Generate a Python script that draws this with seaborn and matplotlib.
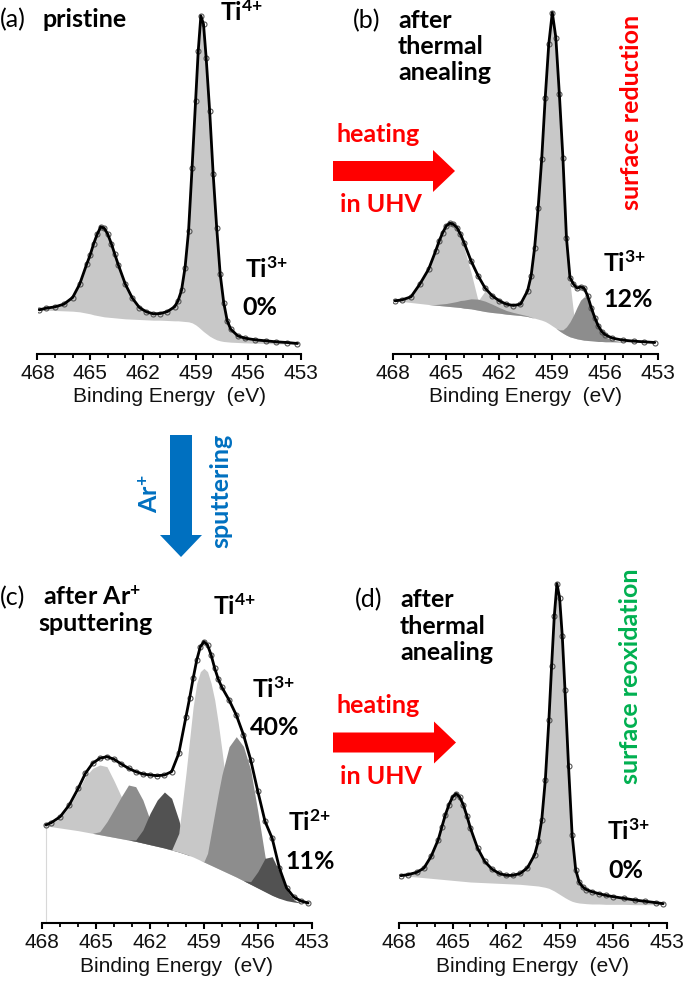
import numpy as np
import matplotlib
matplotlib.use("Agg")
import matplotlib.pyplot as plt
import seaborn as sns
from matplotlib.patches import FancyArrow

# ---------------- data (intensity in arbitrary units) ----------------
# panel (a) pristine
E_a = [467.9, 467.5, 467.0, 466.5, 466.0, 465.6, 465.2, 465.0,
       464.8, 464.6, 464.4, 464.2, 464.0, 463.8, 463.6, 463.4,
       463.0, 462.6, 462.2, 461.8, 461.4, 461.0, 460.6, 460.2,
       460.0, 459.8, 459.6, 459.4, 459.2, 459.0, 458.85,
       458.7, 458.55, 458.4, 458.2, 458.0, 457.8, 457.6, 457.4, 457.2, 457.0,
       456.6, 456.2, 455.6, 455.0, 454.4, 453.8, 453.2]
env_a = [131, 136, 140, 148, 168, 208, 268, 296,
         330, 358, 380, 376, 358, 330, 298, 266,
         208, 166, 138, 125, 119, 120, 126, 140,
         158, 190, 258, 368, 558, 758, 908,
         1013, 988, 888, 728, 538, 378, 238, 153, 98, 73,
         53, 46, 41, 38, 35, 33, 30]
bg_a = [131, 130, 129, 128, 127, 125, 121, 119,
        116, 114, 112, 110, 109, 108, 107, 106,
        104, 103, 102, 101, 100, 100, 99, 98,
        98, 97, 96, 95, 92, 86, 80,
        73, 66, 60, 52, 46, 41, 38, 36, 35, 34,
        33, 32, 31, 30, 29, 29, 28]

# panel (b) after thermal annealing
E_b = [467.9, 467.5, 467.0, 466.5, 466.0, 465.6, 465.4, 465.2, 465.0, 464.8,
       464.6, 464.4, 464.2, 464.0, 463.6, 463.2, 462.8, 462.4, 462.0, 461.6,
       461.2, 460.8, 460.4, 460.2, 460.0, 459.8, 459.6, 459.4, 459.2, 459.0,
       458.8, 458.6, 458.4, 458.2, 458.0, 457.8, 457.6, 457.4, 457.2, 457.0,
       456.8, 456.6, 456.4, 456.2, 456.0, 455.6, 455.0, 454.4, 453.8, 453.2]
env_b = [158, 161, 170, 208, 253, 308, 338, 363, 383, 391,
         388, 378, 358, 333, 278, 233, 196, 173, 158, 148,
         144, 148, 188, 233, 318, 438, 583, 768, 928, 1023,
         948, 778, 588, 348, 228, 208, 196, 200, 196, 173,
         138, 108, 83, 66, 56, 46, 40, 37, 35, 33]
bg_b = [158, 156, 153, 150, 147, 145, 144, 143, 142, 141,
        140, 139, 138, 136, 134, 130, 126, 123, 121, 118,
        116, 114, 111, 108, 106, 103, 100, 96, 90, 83,
        76, 68, 61, 55, 50, 47, 44, 42, 40, 39,
        38, 37, 36, 36, 35, 35, 34, 34, 33, 32]
ti4_b = [158, 161, 170, 208, 253, 308, 338, 363, 383, 391,
         388, 378, 358, 318, 243, 158, 188, 168, 155, 146,
         142, 146, 186, 231, 316, 436, 581, 766, 926, 1020,
         946, 776, 586, 346, 213, 123, 73, 50, 42, 39,
         38, 37, 36, 36, 35, 35, 34, 34, 33, 32]
ti3_b = [158, 156, 153, 150, 147, 147, 148, 149, 150, 152,
         154, 156, 159, 160, 164, 163, 157, 148, 138, 129,
         123, 118, 113, 109, 106, 103, 100, 96, 90, 83,
         76, 71, 71, 80, 95, 115, 139, 160, 170, 164,
         138, 107, 81, 63, 50, 40, 35, 34, 33, 32]

# panel (c) after Ar+ sputtering
E_c = [467.8, 467.5, 467.0, 466.5, 466.0, 465.6, 465.2, 464.8, 464.4, 464.0,
       463.6, 463.2, 462.8, 462.4, 462.0, 461.6, 461.2, 460.8, 460.4, 460.0,
       459.8, 459.6, 459.4, 459.2, 459.0, 458.8, 458.6, 458.4, 458.2, 458.0,
       457.6, 457.2, 456.8, 456.4, 456.0, 455.6, 455.2, 454.8, 454.4, 454.0,
       453.6, 453.2]
env_c = [294, 301, 319, 354, 404, 449, 479, 494, 499, 491,
         477, 464, 454, 447, 444, 442, 444, 454, 509, 619,
         674, 734, 789, 829, 844, 834, 804, 764, 731, 707,
         669, 624, 565, 490, 395, 305, 254, 165, 105, 78,
         66, 60]
bg_c = [291, 289, 285, 281, 277, 273, 269, 265, 261, 257,
        253, 249, 245, 240, 235, 230, 225, 219, 213, 206,
        202, 198, 193, 188, 183, 178, 173, 168, 163, 158,
        148, 138, 127, 116, 105, 94, 83, 74, 67, 63,
        60, 58]
ti4_c_p12 = [291, 298, 315, 349, 397, 439, 464, 474, 469, 426,
             379, 314, 269, 247, 237, 230, 225, 219, 213, 206,
             202, 198, 193, 188, 183, 178, 173, 168, 163, 158,
             148, 138, 127, 116, 105, 94, 83, 74, 67, 63,
             60, 58]
ti3_c_p12 = [291, 289, 285, 281, 277, 273, 269, 274, 304, 341,
             379, 414, 409, 369, 309, 257, 229, 219, 213, 206,
             202, 198, 193, 188, 183, 178, 173, 168, 163, 158,
             148, 138, 127, 116, 105, 94, 83, 74, 67, 63,
             60, 58]
ti2_c_p12 = [291, 289, 285, 281, 277, 273, 269, 265, 261, 257,
             253, 249, 249, 279, 329, 369, 393, 374, 309, 229,
             202, 198, 193, 188, 183, 178, 173, 168, 163, 158,
             148, 138, 127, 116, 105, 94, 83, 74, 67, 63,
             60, 58]
ti4_c_p32 = [291, 289, 285, 281, 277, 273, 269, 265, 261, 257,
             253, 249, 245, 240, 235, 230, 225, 219, 269, 449,
             549, 649, 719, 754, 764, 754, 719, 669, 599, 519,
             349, 209, 139, 116, 105, 94, 83, 74, 67, 63,
             60, 58]
ti3_c_p32 = [291, 289, 285, 281, 277, 273, 269, 265, 261, 257,
             253, 249, 245, 240, 235, 230, 225, 219, 213, 206,
             202, 198, 193, 188, 184, 209, 269, 329, 389, 444,
             529, 559, 530, 460, 335, 200, 110, 74, 67, 63,
             60, 58]
ti2_c_p32 = [291, 289, 285, 281, 277, 273, 269, 265, 261, 257,
             253, 249, 245, 240, 235, 230, 225, 219, 213, 206,
             202, 198, 193, 188, 183, 178, 173, 168, 163, 158,
             148, 138, 127, 124, 154, 194, 199, 154, 99, 69,
             60, 58]

# panel (d) after thermal annealing (reoxidised)
E_d = [467.9, 467.5, 467.0, 466.6, 466.2, 465.8, 465.6, 465.4, 465.2,
       465.0, 464.8, 464.6, 464.4, 464.2, 464.0, 463.6, 463.2,
       462.8, 462.4, 462.0, 461.6, 461.2, 460.8, 460.4, 460.2,
       460.0, 459.8, 459.6, 459.45, 459.3, 459.15, 459.0,
       458.85, 458.7, 458.5, 458.3, 458.1, 457.9, 457.7, 457.5,
       457.2, 456.8, 456.4, 456.0, 455.4, 454.8, 454.2, 453.6, 453.2]
env_d = [142, 145, 152, 165, 200, 250, 288, 325, 355,
         378, 388, 378, 355, 322, 285, 225, 185,
         162, 149, 143, 143, 149, 166, 205, 245,
         310, 430, 610, 770, 920, 1018, 975,
         860, 700, 470, 265, 160, 122, 108, 100,
         94, 88, 83, 79, 74, 69, 65, 61, 58]
bg_d = [142, 140, 138, 136, 134, 132, 131, 130, 129,
        128, 127, 126, 125, 124, 123, 122, 121,
        120, 119, 118, 117, 116, 114, 112, 111,
        109, 107, 104, 100, 96, 91, 86,
        81, 76, 70, 65, 62, 60, 59, 58,
        57, 57, 56, 56, 56, 55, 55, 55, 55]

tick_values = [468, 465, 462, 459, 456, 453]
x_label = "Binding Energy  (eV)"

LIGHT, MEDIUM, DARK = "#c8c8c8", "#8d8d8d", "#525252"
RED, BLUE, GREEN = "#ff0000", "#0070c0", "#00b050"

# ---------------- style ----------------
sns.set_theme(style="white")
plt.rcParams["font.family"] = ["Lato", "DejaVu Sans"]
plt.rcParams["mathtext.fontset"] = "custom"
plt.rcParams["mathtext.rm"] = "Lato"
plt.rcParams["mathtext.bf"] = "Lato:bold"
plt.rcParams["mathtext.it"] = "Lato:italic"

W, H = 685, 985
fig = plt.figure(figsize=(W / 100, H / 100), dpi=100)
fig.patch.set_facecolor("white")


def make_axes(x0, x1, y_axis, y_top):
    ax = fig.add_axes([x0 / W, 1 - y_axis / H, (x1 - x0) / W, (y_axis - y_top) / H])
    ax.set_xlim(468, 453)
    ax.set_ylim(0, 3 * (y_axis - y_top))
    ax.patch.set_visible(False)
    for s in ["top", "right", "left"]:
        ax.spines[s].set_visible(False)
    ax.spines["bottom"].set_linewidth(1.5)
    ax.spines["bottom"].set_color("black")
    ax.set_xticks(tick_values)
    ax.set_xticks(np.arange(453, 469, 1), minor=True)
    ax.set_xticklabels([str(t) for t in tick_values])
    ax.tick_params(axis="x", which="major", bottom=True, direction="out", length=4.5,
                   width=1.5, color="black", labelsize=15, pad=3)
    ax.tick_params(axis="x", which="minor", bottom=True, direction="out", length=2.7,
                   width=1.3, color="black")
    for lab in ax.get_xticklabels():
        lab.set_fontfamily("Liberation Sans")
        lab.set_color("#111111")
    ax.set_yticks([])
    ax.set_xlabel(x_label, fontsize=15, family="Liberation Sans", color="#111111", labelpad=3)
    ax.set_ylabel("")
    return ax


def envelope(ax, E, env):
    sns.lineplot(x=E, y=env, ax=ax, sort=False, linestyle="", marker="o", markersize=3.6,
                 markerfacecolor="none", markeredgecolor="#555555", markeredgewidth=0.8,
                 zorder=4)
    sns.lineplot(x=E, y=env, ax=ax, sort=False, color="black", linewidth=2.0, zorder=5)


ax_a = make_axes(37.5, 301.0, 353.5, 0)
ax_b = make_axes(393.3, 658.3, 353.5, 0)
ax_c = make_axes(42.3, 311.7, 923.0, 560)
ax_d = make_axes(399.0, 666.7, 923.0, 560)

# (a)
ax_a.fill_between(E_a, bg_a, env_a, color=LIGHT, lw=0, zorder=1)
envelope(ax_a, E_a, env_a)

# (b)
ax_b.fill_between(E_b, bg_b, ti4_b, color=LIGHT, lw=0, zorder=1)
ax_b.fill_between(E_b, bg_b, ti3_b, color=MEDIUM, lw=0, zorder=2)
envelope(ax_b, E_b, env_b)

# (c)
for top, col in [(ti4_c_p12, LIGHT), (ti3_c_p12, MEDIUM), (ti2_c_p12, DARK),
                 (ti4_c_p32, LIGHT), (ti3_c_p32, MEDIUM), (ti2_c_p32, DARK)]:
    ax_c.fill_between(E_c, bg_c, top, color=col, lw=0, zorder=1)
ax_c.vlines(E_c[0], 0, env_c[0], color="#d8d8d8", lw=0.8, zorder=1)
envelope(ax_c, E_c, env_c)

# (d)
ax_d.fill_between(E_d, bg_d, env_d, color=LIGHT, lw=0, zorder=1)
envelope(ax_d, E_d, env_d)

# ---------------- annotations in pixel coordinates ----------------
ov = fig.add_axes([0, 0, 1, 1])
ov.set_xlim(0, W)
ov.set_ylim(H, 0)
ov.axis("off")
ov.patch.set_visible(False)

FS = 18


def label(x, y, s, bold=True, color="black", size=FS, **kw):
    ov.text(x, y, s, fontsize=size, fontweight="bold" if bold else "normal",
            color=color, ha=kw.pop("ha", "left"), va=kw.pop("va", "baseline"), **kw)


SUP4 = r"Ti$^{\mathbf{4{+}}}$"
SUP3 = r"Ti$^{\mathbf{3{+}}}$"
SUP2 = r"Ti$^{\mathbf{2{+}}}$"

# panel a
label(0, 27, "(a)", bold=False)
label(43, 27, "pristine")
label(220, 21, SUP4)
label(245, 278, SUP3)
label(242, 315, "0%")

# panel b
label(353, 28, "(b)", bold=False)
label(398, 28, "after")
label(398, 54.5, "thermal")
label(398, 80.5, "anealing")
label(603, 272, SUP3)
label(603, 307, "12%")
label(632, 112, "surface reduction", color=RED, rotation=90, ha="center", va="center")
label(337, 142.5, "heating", color=RED)
label(340, 211.5, "in UHV", color=RED)
ov.add_patch(FancyArrow(333, 171, 122, 0, width=20, head_width=42, head_length=22,
                        length_includes_head=True, color=RED, lw=0))

# blue arrow
ov.add_patch(FancyArrow(181, 435, 0, 122, width=22, head_width=42, head_length=22,
                        length_includes_head=True, color=BLUE, lw=0))
label(150, 494, r"Ar$^{\mathbf{{+}}}$", color=BLUE, rotation=90, ha="center", va="center")
label(220.5, 491, "sputtering", color=BLUE, rotation=90, ha="center", va="center")

# panel c
label(0, 605, "(c)", bold=False)
label(43, 605, r"after Ar$^{\mathbf{{+}}}$")
label(38.5, 631, "sputtering")
label(213, 615, SUP4)
label(252, 698, SUP3)
label(250, 735, "40%")
label(288, 831, SUP2)
label(285, 869, "11%")

# panel d
label(355, 607, "(d)", bold=False)
label(400, 607, "after")
label(400, 634, "thermal")
label(400, 660, "anealing")
label(337, 713, "heating", color=RED)
label(340, 784, "in UHV", color=RED)
ov.add_patch(FancyArrow(333, 742.5, 123, 0, width=20, head_width=42, head_length=22,
                        length_includes_head=True, color=RED, lw=0))
label(631, 676, "surface reoxidation", color=GREEN, rotation=90, ha="center", va="center")
label(607, 840, SUP3)
label(608, 878, "0%")

fig.savefig("out.png", dpi=100, facecolor="white")
